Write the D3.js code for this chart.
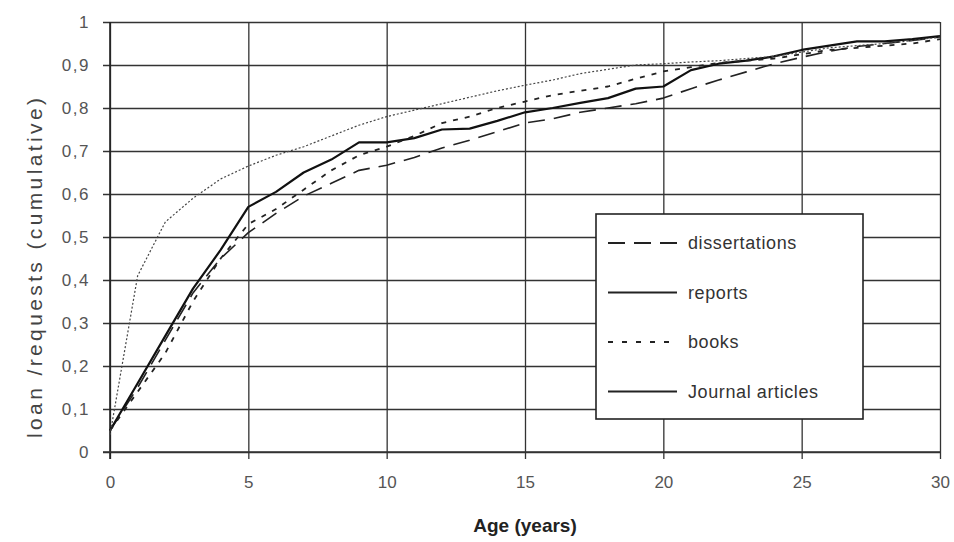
<!DOCTYPE html>
<meta charset="utf-8">
<title>Loan requests by age</title>
<style>
  body { margin: 0; background: #fff; }
  text { font-family: "Liberation Sans", Arial, sans-serif; }
</style>
<body>
<script src="https://cdn.jsdelivr.net/npm/d3@7"></script>
<script>

var width = 954;
var height = 542;
var margin = { top: 22, right: 14, bottom: 90, left: 110 };

// data
var years = d3.range(0, 31);
var dissertations = [0.05, 0.15, 0.26, 0.37, 0.45, 0.51, 0.555, 0.595, 0.625, 0.655, 0.667,
  0.685, 0.707, 0.725, 0.745, 0.765, 0.775, 0.79, 0.80, 0.81, 0.823,
  0.845, 0.865, 0.884, 0.903, 0.918, 0.932, 0.943, 0.95, 0.957, 0.965];
var reports = [0.05, 0.16, 0.27, 0.38, 0.47, 0.57, 0.605, 0.65, 0.68, 0.72, 0.72,
  0.73, 0.75, 0.752, 0.77, 0.79, 0.80, 0.812, 0.823, 0.845, 0.85,
  0.888, 0.903, 0.91, 0.92, 0.935, 0.945, 0.955, 0.955, 0.96, 0.967];
var books = [0.05, 0.14, 0.23, 0.35, 0.45, 0.53, 0.565, 0.61, 0.655, 0.69, 0.71,
  0.735, 0.765, 0.78, 0.80, 0.815, 0.83, 0.84, 0.85, 0.868, 0.885,
  0.895, 0.905, 0.91, 0.915, 0.925, 0.935, 0.94, 0.945, 0.95, 0.96];
var journals = [0.04, 0.41, 0.535, 0.59, 0.635, 0.665, 0.69, 0.71, 0.735, 0.76, 0.78,
  0.795, 0.81, 0.825, 0.84, 0.853, 0.865, 0.88, 0.89, 0.90, 0.903,
  0.907, 0.91, 0.915, 0.92, 0.93, 0.94, 0.945, 0.95, 0.957, 0.965];

var seriesNames = ['dissertations', 'reports', 'books', 'Journal articles'];
var seriesValues = [dissertations, reports, books, journals];
var xTicks = [0, 5, 10, 15, 20, 25, 30];
var yTicks = [0, 0.1, 0.2, 0.3, 0.4, 0.5, 0.6, 0.7, 0.8, 0.9, 1];

// line look per series (chart / legend)
var dash = ['17,9', null, '5,7', '2,2'];
var legendDash = ['17,9', null, '5,9', null];
var strokeW = [1.6, 2.2, 1.8, 1.2];
var strokeC = ['#222', '#111', '#222', '#444'];

var svg = d3.select('body').append('svg')
    .attr('width', width)
    .attr('height', height)
    .style('display', 'block');

var x = d3.scaleLinear().domain([0, 30]).range([margin.left, width - margin.right]);
var y = d3.scaleLinear().domain([0, 1]).range([height - margin.bottom, margin.top]);

var fmt = function(d) { return d === 0 || d === 1 ? String(d) : d3.format('.1f')(d).replace('.', ','); };

// grid - horizontal
svg.append('g')
    .attr('transform', 'translate(' + margin.left + ',0)')
    .call(d3.axisLeft(y).tickValues(yTicks).tickFormat(fmt)
      .tickSize(-(width - margin.left - margin.right)).tickPadding(20))
    .call(function(g) {
      g.select('.domain').remove();
      g.selectAll('.tick line').attr('x1', -7).attr('stroke', '#333').attr('stroke-width', 1.3);
      g.selectAll('.tick text').attr('fill', '#555').style('font-size', '17px').style('letter-spacing', '1.5px');
    });

// grid - vertical
svg.append('g')
    .attr('transform', 'translate(0,' + (height - margin.bottom) + ')')
    .call(d3.axisBottom(x).tickValues(xTicks)
      .tickSize(-(height - margin.top - margin.bottom)).tickPadding(24))
    .call(function(g) {
      g.select('.domain').remove();
      g.selectAll('.tick line').attr('y1', 7).attr('stroke', '#333').attr('stroke-width', 1.3);
      g.selectAll('.tick text').attr('fill', '#555').style('font-size', '17px');
    });

// axis lines
svg.append('line')
    .attr('x1', x(0)).attr('x2', x(0)).attr('y1', y(0) + 7).attr('y2', y(1))
    .attr('stroke', '#222').attr('stroke-width', 1.6);
svg.append('line')
    .attr('x1', x(0) - 7).attr('x2', x(30)).attr('y1', y(0)).attr('y2', y(0))
    .attr('stroke', '#333').attr('stroke-width', 1.3);

// curves
var line = d3.line()
    .x(function(d, i) { return x(years[i]); })
    .y(function(d) { return y(d); });

svg.append('g').selectAll('path')
    .data(seriesValues)
    .enter().append('path')
    .attr('d', line)
    .attr('fill', 'none')
    .attr('stroke', function(d, i) { return strokeC[i]; })
    .attr('stroke-width', function(d, i) { return strokeW[i]; })
    .attr('stroke-dasharray', function(d, i) { return dash[i]; })
    .attr('stroke-linejoin', 'round');

// legend
var lg = svg.append('g').attr('transform', 'translate(596,214)');
lg.append('rect')
    .attr('width', 267).attr('height', 205)
    .attr('fill', '#fff').attr('stroke', '#222').attr('stroke-width', 1.6);

var row = lg.selectAll('.row')
    .data(seriesNames)
    .enter().append('g')
    .attr('class', 'row')
    .attr('transform', function(d, i) { return 'translate(0,' + (29 + i * 49.5) + ')'; });
row.append('line')
    .attr('x1', 12).attr('x2', 81)
    .attr('stroke', '#222')
    .attr('stroke-width', function(d, i) { return i === 2 ? 2.2 : 1.8; })
    .attr('stroke-dasharray', function(d, i) { return legendDash[i]; });
row.append('text')
    .attr('x', 92).attr('dy', '0.35em')
    .attr('fill', '#333')
    .style('font-size', '18px')
    .style('letter-spacing', '0.6px')
    .text(function(d) { return d; });

// axis titles
svg.append('text')
    .attr('x', (x(0) + x(30)) / 2).attr('y', 532)
    .attr('text-anchor', 'middle')
    .attr('fill', '#222')
    .style('font-size', '19px')
    .style('font-weight', 'bold')
    .text('Age (years)');

svg.append('text')
    .attr('transform', 'translate(42,' + 268 + ') rotate(-90)')
    .attr('text-anchor', 'middle')
    .attr('fill', '#444')
    .style('font-size', '21px')
    .attr('textLength', 340)
    .attr('lengthAdjust', 'spacing')
    .text('loan /requests (cumulative)');

</script>
</body>
